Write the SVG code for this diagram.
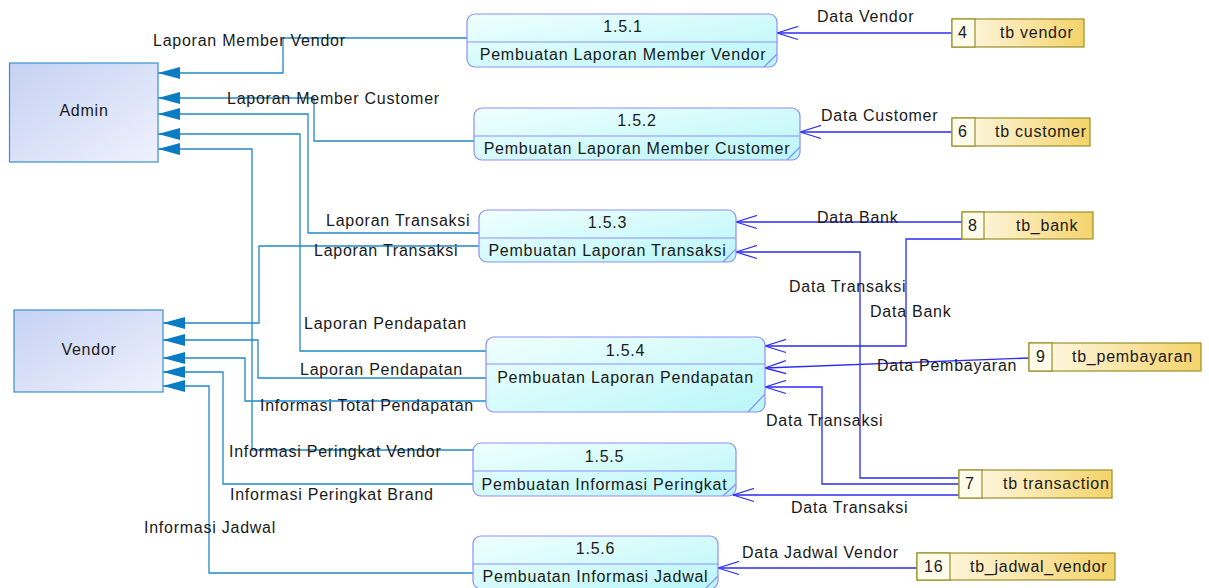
<svg xmlns="http://www.w3.org/2000/svg" width="1209" height="588" viewBox="0 0 1209 588">
<defs>
<linearGradient id="gEnt" x1="0" y1="0" x2="1" y2="1"><stop offset="0" stop-color="#c5d2f3"/><stop offset="1" stop-color="#eff1fd"/></linearGradient>
<linearGradient id="gProc" x1="0" y1="0" x2="1" y2="1"><stop offset="0" stop-color="#f0ffff"/><stop offset="1" stop-color="#b9f6f8"/></linearGradient>
<linearGradient id="gStore" x1="0" y1="0" x2="1" y2="0"><stop offset="0" stop-color="#fffbee"/><stop offset="1" stop-color="#f4d36a"/></linearGradient>
<marker id="mFill" viewBox="0 0 22 12" refX="22" refY="6" markerUnits="userSpaceOnUse" markerWidth="22" markerHeight="12" orient="auto"><path d="M0,0 L22,6 L0,12 z" fill="#0a7cc4"/></marker>
<marker id="mOpen" viewBox="-1 -1 23 15" refX="21" refY="6.5" markerUnits="userSpaceOnUse" markerWidth="23" markerHeight="15" orient="auto"><path d="M0,0 L21,6.5 L0,13" fill="none" stroke="#2b2bf5" stroke-width="1.3"/></marker>
</defs>
<style>
text{font-family:"Liberation Sans",Arial,sans-serif;font-size:16px;fill:#1a1a1a;letter-spacing:0.75px}
.ent{fill:url(#gEnt);stroke:#3a8fd0;stroke-width:1.2}
.proc{fill:url(#gProc);stroke:#8d8dfb;stroke-width:1.2}
.div{stroke:#8d8dfb;stroke-width:1.2}
.store{fill:url(#gStore);stroke:#9a9028;stroke-width:1.2}
.num{fill:#fffbeb;stroke:#9a9028;stroke-width:1.2}
.tl{fill:none;stroke:#2388c8;stroke-width:1.3;marker-end:url(#mFill)}
.bl{fill:none;stroke:#2b2bf5;stroke-width:1.3;marker-end:url(#mOpen)}
.mid{text-anchor:middle}
</style>

<g id="connectors">
<path class="tl" d="M467,38 H283 V73 H158"/>
<path class="tl" d="M474,141 H314 V98 H158"/>
<path class="tl" d="M479,233 H308 V114 H158"/>
<path class="tl" d="M486,351 H300 V134 H158"/>
<path class="tl" d="M473,450 H252 V149 H158"/>
<path class="tl" d="M479,246 H259 V323 H163"/>
<path class="tl" d="M486,378 H258 V340 H163"/>
<path class="tl" d="M486,401 H245 V358 H163"/>
<path class="tl" d="M473,484 H223 V372 H163"/>
<path class="tl" d="M473,573 H209 V386 H163"/>
<path class="bl" d="M952,33 H777"/>
<path class="bl" d="M952,132 H800"/>
<path class="bl" d="M962,222 H736"/>
<path class="bl" d="M962,239 H906 V346 H765"/>
<path class="bl" d="M1029,358 L765,368"/>
<path class="bl" d="M959,478 H860 V252 H736"/>
<path class="bl" d="M959,484 H822 V387 H765"/>
<path class="bl" d="M959,495 H733"/>
<path class="bl" d="M917,568 H718"/>
<text x="153" y="46">Laporan Member Vendor</text>
<text x="227" y="104">Laporan Member Customer</text>
<text x="326" y="226">Laporan Transaksi</text>
<text x="314" y="256">Laporan Transaksi</text>
<text x="304" y="329">Laporan Pendapatan</text>
<text x="300" y="375">Laporan Pendapatan</text>
<text x="260" y="411">Informasi Total Pendapatan</text>
<text x="229" y="457">Informasi Peringkat Vendor</text>
<text x="230" y="500">Informasi Peringkat Brand</text>
<text x="144" y="533">Informasi Jadwal</text>
<text x="817" y="22">Data Vendor</text>
<text x="821" y="121">Data Customer</text>
<text x="817" y="223">Data Bank</text>
<text x="789" y="292">Data Transaksi</text>
<text x="870" y="317">Data Bank</text>
<text x="877" y="371">Data Pembayaran</text>
<text x="766" y="426">Data Transaksi</text>
<text x="791" y="513">Data Transaksi</text>
<text x="742" y="558">Data Jadwal Vendor</text>
</g>

<g id="admin"><rect class="ent" x="9.5" y="63" width="148.5" height="99"/><text class="mid" x="84" y="116">Admin</text></g>
<g id="vendor"><rect class="ent" x="14" y="310" width="149" height="82"/><text class="mid" x="89" y="355">Vendor</text></g>

<g id="p151"><rect class="proc" x="467" y="14" width="310" height="53" rx="8"/><line class="div" x1="467" y1="42" x2="777" y2="42"/><line class="div" x1="764" y1="67" x2="777" y2="54"/><text class="mid" x="623" y="32">1.5.1</text><text class="mid" x="623" y="60">Pembuatan Laporan Member Vendor</text></g>
<g id="p152"><rect class="proc" x="474" y="108" width="326" height="52" rx="8"/><line class="div" x1="474" y1="136" x2="800" y2="136"/><line class="div" x1="787" y1="160" x2="800" y2="147"/><text class="mid" x="637" y="126">1.5.2</text><text class="mid" x="637" y="154">Pembuatan Laporan Member Customer</text></g>
<g id="p153"><rect class="proc" x="479" y="210" width="257" height="52" rx="8"/><line class="div" x1="479" y1="238" x2="736" y2="238"/><line class="div" x1="723" y1="262" x2="736" y2="249"/><text class="mid" x="607.5" y="228">1.5.3</text><text class="mid" x="607.5" y="256">Pembuatan Laporan Transaksi</text></g>
<g id="p154"><rect class="proc" x="486" y="337" width="279" height="75" rx="8"/><line class="div" x1="486" y1="364" x2="765" y2="364"/><line class="div" x1="748" y1="412" x2="765" y2="394"/><text class="mid" x="625.5" y="356">1.5.4</text><text class="mid" x="625.5" y="383">Pembuatan Laporan Pendapatan</text></g>
<g id="p155"><rect class="proc" x="473" y="443" width="263" height="53" rx="8"/><line class="div" x1="473" y1="471" x2="736" y2="471"/><line class="div" x1="723" y1="496" x2="736" y2="484"/><text class="mid" x="604.5" y="462">1.5.5</text><text class="mid" x="604.5" y="490">Pembuatan Informasi Peringkat</text></g>
<g id="p156"><rect class="proc" x="473" y="536" width="245" height="53" rx="8"/><line class="div" x1="473" y1="564" x2="718" y2="564"/><line class="div" x1="705" y1="589" x2="718" y2="576"/><text class="mid" x="595.5" y="554">1.5.6</text><text class="mid" x="595.5" y="582">Pembuatan Informasi Jadwal</text></g>

<g id="s4"><rect class="store" x="952" y="19" width="132" height="28"/><rect class="num" x="952" y="19" width="23" height="28"/><text x="958" y="38">4</text><text x="1000" y="38">tb vendor</text></g>
<g id="s6"><rect class="store" x="952" y="118" width="138" height="28"/><rect class="num" x="952" y="118" width="23" height="28"/><text x="958" y="137">6</text><text x="995" y="137">tb customer</text></g>
<g id="s8"><rect class="store" x="962" y="212" width="131" height="27"/><rect class="num" x="962" y="212" width="22" height="27"/><text x="968" y="231">8</text><text x="1016" y="231">tb_bank</text></g>
<g id="s9"><rect class="store" x="1029" y="343" width="172" height="28"/><rect class="num" x="1029" y="343" width="23" height="28"/><text x="1036" y="362">9</text><text x="1072" y="362">tb_pembayaran</text></g>
<g id="s7"><rect class="store" x="959" y="470" width="153" height="28"/><rect class="num" x="959" y="470" width="23" height="28"/><text x="965" y="489">7</text><text x="1003" y="489">tb transaction</text></g>
<g id="s16"><rect class="store" x="917" y="553" width="198" height="27"/><rect class="num" x="917" y="553" width="33" height="27"/><text x="924" y="572">16</text><text x="970" y="572">tb_jadwal_vendor</text></g>
</svg>
